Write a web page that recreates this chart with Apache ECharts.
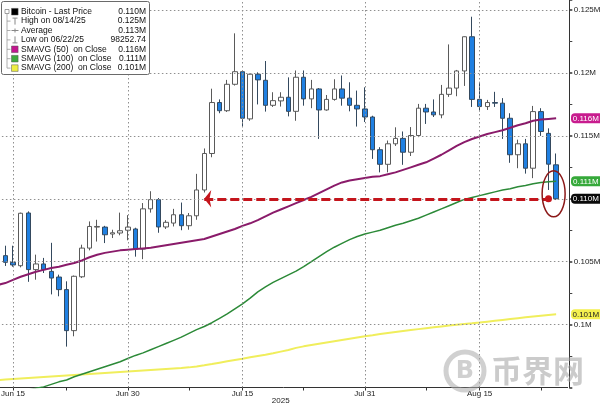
<!DOCTYPE html>
<html><head><meta charset="utf-8">
<script src="https://cdn.jsdelivr.net/npm/echarts@6/dist/echarts.min.js"></script>
<style>html,body{margin:0;padding:0;background:#fff}#c{width:600px;height:405px}</style>
</head><body><div id="c"></div>
<script>
const dates = ['Jun 13','Jun 14','Jun 15','Jun 16','Jun 17','Jun 18','Jun 19','Jun 20','Jun 21','Jun 22','Jun 23','Jun 24','Jun 25','Jun 26','Jun 27','Jun 28','Jun 29','Jun 30',
'Jul 1','Jul 2','Jul 3','Jul 4','Jul 5','Jul 6','Jul 7','Jul 8','Jul 9','Jul 10','Jul 11','Jul 12','Jul 13','Jul 14','Jul 15','Jul 16','Jul 17','Jul 18','Jul 19','Jul 20','Jul 21','Jul 22','Jul 23','Jul 24','Jul 25','Jul 26','Jul 27','Jul 28','Jul 29','Jul 30','Jul 31',
'Aug 1','Aug 2','Aug 3','Aug 4','Aug 5','Aug 6','Aug 7','Aug 8','Aug 9','Aug 10','Aug 11','Aug 12','Aug 13','Aug 14','Aug 15','Aug 16','Aug 17','Aug 18','Aug 19','Aug 20','Aug 21','Aug 22','Aug 23','Aug 24','Aug 25','Aug 26'];

const open  = [106000,105480,104950,104680,108870,104370,104820,104230,103780,102780,99520,103800,106080,107750,107750,107200,107280,107500,107600,106000,109200,109930,107760,108070,108730,107860,108650,110700,113600,117650,117000,119100,120100,116350,119900,119420,117430,117780,118070,116950,119660,117940,118730,117060,117900,118730,118000,117430,117140,116500,113900,112740,114370,114800,113700,115030,117200,116900,116670,118300,118800,120160,122880,117900,117330,117650,117600,116400,113500,114370,112430,116930,115200,112700];
const close = [105480,104950,104740,108850,104370,104820,104370,103700,102780,99520,103840,106080,107800,107800,107140,107300,107460,107750,106000,109200,109930,107760,108130,108730,107860,108650,110700,113600,117650,117000,119100,120100,116400,119900,119450,117430,117800,118070,116950,119660,117940,118730,117060,117900,118730,118000,117430,117140,116500,113900,112740,114370,114800,113700,115030,117200,116900,116670,118300,118800,120160,122880,117900,117330,117650,117600,116400,113500,114370,112430,116930,115350,112750,110000];
const low   = [104800,104660,104600,104550,103400,103570,104100,102400,102250,98250,99070,103700,105900,106600,106480,106880,107100,106700,105400,105200,108900,107300,107600,107800,107500,107540,108330,110500,113300,116800,116900,119000,115750,116200,117500,116930,117300,117330,116550,116200,117400,117200,114760,117000,117800,117400,116950,115740,116100,113170,112100,112100,114200,112700,113400,114900,115950,116500,116400,118100,118150,118970,117300,116950,117060,117300,114760,112860,112430,112000,111640,115000,110700,109900];
const high  = [106300,106270,106270,108900,109000,105560,105300,106500,103970,103440,103900,106350,108200,108330,107850,107540,108900,108700,107700,109660,110600,110060,108300,109200,109700,108870,111980,114000,118750,117900,119450,123150,120150,119950,120050,120950,118470,118470,119650,120200,120200,119450,118800,118250,119500,119800,119260,118600,118860,116600,114100,114630,115680,115350,115700,117540,117540,117900,119050,122270,120240,122900,124470,119300,117860,118500,118000,116800,114700,114760,117380,117200,115600,113600];

const sma50  = [103150,103300,103550,103800,104000,104200,104350,104500,104600,104750,104900,105100,105350,105550,105700,105800,105900,105950,106000,106050,106100,106200,106300,106400,106500,106600,106700,106800,107000,107200,107400,107600,107850,108050,108300,108600,108900,109150,109400,109650,109900,110150,110450,110750,111050,111300,111450,111550,111650,111750,111800,111950,112100,112300,112500,112700,112900,113200,113500,113850,114200,114500,114750,114950,115150,115300,115450,115650,115850,116000,116200,116300,116350,116400];
const sma100 = [94200,94350,94500,94650,94800,94950,95050,95250,95450,95600,95850,96050,96250,96450,96650,96850,97050,97300,97550,97750,98000,98250,98500,98750,99000,99300,99600,99850,100150,100500,100850,101250,101650,102100,102600,103000,103350,103650,103950,104250,104600,105000,105400,105800,106150,106450,106750,107000,107200,107350,107500,107700,107900,108050,108250,108450,108700,108950,109200,109450,109700,109950,110100,110250,110400,110550,110700,110800,110950,111050,111200,111300,111350,111400];
const sma200 = [95570,95630,95670,95710,95750,95790,95830,95870,95910,95950,95990,96030,96070,96110,96150,96190,96230,96270,96310,96350,96390,96430,96470,96510,96550,96600,96670,96760,96860,96970,97080,97190,97290,97400,97500,97600,97720,97850,97980,98150,98270,98370,98470,98570,98670,98770,98870,98970,99070,99150,99250,99340,99420,99500,99570,99640,99710,99780,99850,99920,99990,100050,100100,100160,100230,100300,100370,100440,100510,100580,100650,100710,100770,100820];

const majorDates = ['Jun 15','Jun 30','Jul 15','Jul 31','Aug 15'];
const minorDates = ['Jun 22','Jul 8','Jul 23','Aug 8','Aug 23'];
const yearLabel = '2025';
const yGridValues = [100000,105000,110000,115000,120000,125000];
const yLabelValues = [100000,105000,115000,120000,125000];
const arrowFrom = 'Jul 10', arrowTo = 'Aug 24';
const legendRows = [
  {label:'Bitcoin - Last Price', value:'0.110M', icon:'square', color:'#000000'},
  {label:'High on 08/14/25', value:'0.125M', icon:'high'},
  {label:'Average', value:'0.113M', icon:'avg'},
  {label:'Low on 06/22/25', value:'98252.74', icon:'low'},
  {label:'SMAVG (50)  on Close', value:'0.116M', icon:'square', color:'#c2178f'},
  {label:'SMAVG (100)  on Close', value:'0.111M', icon:'square', color:'#3daa3d'},
  {label:'SMAVG (200)  on Close', value:'0.101M', icon:'square', color:'#eeee44'}
];
const tagTexts = {last:'0.110M', s50:'0.116M', s100:'0.111M', s200:'0.101M'};

const FONT = "'Liberation Sans',Arial,sans-serif";
const chart = echarts.init(document.getElementById('c'), null, {renderer:'canvas'});

const candleData = open.map((o,i)=>[o, close[i], low[i], high[i]]);

chart.setOption({
  animation:false,
  backgroundColor:'#ffffff',
  grid:{left:-6.1, right:32.4, top:0, bottom:17.5, containLabel:false, outerBoundsMode:'none'},
  xAxis:{type:'category', data:dates, boundaryGap:true,
    axisLine:{show:true, lineStyle:{color:'#333', width:1}},
    axisTick:{show:true, alignWithLabel:true, length:3, interval:(i,v)=>majorDates.includes(v)||minorDates.includes(v), lineStyle:{color:'#333'}},
    axisLabel:{show:true, interval:(i,v)=>majorDates.includes(v), fontSize:8, color:'#222', margin:2.5, fontFamily:FONT},
    splitLine:{show:false}
  },
  yAxis:{type:'value', position:'right', min:95000, max:125800, interval:5000, offset:1.7,
    axisLine:{show:true, lineStyle:{color:'#333', width:1}},
    axisTick:{show:true, length:3, lineStyle:{color:'#333', width:1.5}},
    minorTick:{show:true, splitNumber:2, length:3, lineStyle:{color:'#444'}},
    splitLine:{show:false},
    axisLabel:{margin:4.5, fontSize:8, color:'#222', fontFamily:FONT,
      formatter:v=> yLabelValues.includes(v) ? (+(v/1e6).toFixed(3))+'M' : ''}
  },
  series:[
    {type:'line', data:[], z:1, silent:true,
      markLine:{silent:true, symbol:'none', label:{show:false}, animation:false,
        lineStyle:{type:[1.5,2.5], color:'#8f8f8f', width:1},
        data: majorDates.map(d=>({xAxis:d})).concat(yGridValues.map(v=>({yAxis:v})))}
    },
    {type:'candlestick', name:'Bitcoin', data:candleData, barWidth:5, z:3,
      itemStyle:{color:'#ffffff', color0:'#1f80e2', borderColor:'#5a5a5a', borderColor0:'#34495e', borderWidth:1}
    },
    {type:'line', name:'SMAVG (200)', data:sma200, symbol:'none', z:4, lineStyle:{color:'#f0ee5c', width:2}},
    {type:'line', name:'SMAVG (100)', data:sma100, symbol:'none', z:4, lineStyle:{color:'#2c8a38', width:1.5}},
    {type:'line', name:'SMAVG (50)', data:sma50, symbol:'none', z:4, lineStyle:{color:'#8a1b6a', width:2}},
    {type:'line', data:[], z:6, silent:true,
      markLine:{silent:true, symbol:['arrow','circle'], symbolSize:[13,7], label:{show:false}, animation:false,
        lineStyle:{type:[9,4], color:'#c4151c', width:3},
        data:[[{coord:[arrowFrom, close[close.length-1]]},{coord:[arrowTo, close[close.length-1]]}]]}
    }
  ]
});

function yPx(v){ return chart.convertToPixel({yAxisIndex:0}, v); }
const lastIdx = close.length-1;
const lastPt = chart.convertToPixel({seriesIndex:1}, [lastIdx, close[lastIdx]]);
const gridRect = chart.getModel().getComponent('grid').coordinateSystem.getRect();

const g = [];
// year label under the x axis, centred on the plot
g.push({type:'text', style:{text:yearLabel, x:gridRect.x + gridRect.width/2, y:gridRect.y + gridRect.height + 13.5, fill:'#222', font:'8px '+FONT, align:'center', verticalAlign:'middle'}, z:50});
// legend box
g.push({type:'rect', shape:{x:1.5, y:1.5, width:148, height:73, r:2}, style:{fill:'#ffffff', stroke:'#6a6a6a', lineWidth:1}, z:100});
const rowY = i => 11.7 + i*9.4;
g.push({type:'rect', shape:{x:5, y:9.5, width:4, height:4}, style:{fill:'#fff', stroke:'#888', lineWidth:0.8}, z:101});
g.push({type:'line', shape:{x1:7, y1:13.5, x2:7, y2:rowY(6)}, style:{stroke:'#999', lineWidth:0.8}, z:101});
legendRows.forEach((r,i)=>{
  const y = rowY(i);
  if(i>0) g.push({type:'line', shape:{x1:7, y1:y, x2:10.5, y2:y}, style:{stroke:'#999', lineWidth:0.8}, z:101});
  if(r.icon==='square'){
    g.push({type:'rect', shape:{x:11.5, y:y-3.3, width:6.6, height:6.6}, style:{fill:r.color, stroke:'#555', lineWidth:0.5}, z:101});
  } else if(r.icon==='high'){
    g.push({type:'line', shape:{x1:12.5, y1:y-3, x2:17.5, y2:y-3}, style:{stroke:'#888', lineWidth:1}, z:101});
    g.push({type:'line', shape:{x1:15, y1:y-3, x2:15, y2:y+3.5}, style:{stroke:'#888', lineWidth:1}, z:101});
  } else if(r.icon==='avg'){
    g.push({type:'line', shape:{x1:11.5, y1:y, x2:18.5, y2:y}, style:{stroke:'#888', lineWidth:1}, z:101});
    g.push({type:'line', shape:{x1:15, y1:y-2, x2:15, y2:y+2}, style:{stroke:'#888', lineWidth:1}, z:101});
  } else if(r.icon==='low'){
    g.push({type:'line', shape:{x1:15, y1:y-3.5, x2:15, y2:y+3}, style:{stroke:'#888', lineWidth:1}, z:101});
    g.push({type:'line', shape:{x1:12.5, y1:y+3, x2:17.5, y2:y+3}, style:{stroke:'#888', lineWidth:1}, z:101});
  }
  g.push({type:'text', style:{text:r.label, x:21, y:y, fill:'#111', font:'8.5px '+FONT, verticalAlign:'middle', align:'left'}, z:101});
  g.push({type:'text', style:{text:r.value, x:146, y:y, fill:'#111', font:'8.5px '+FONT, verticalAlign:'middle', align:'right'}, z:101});
});

// right price tags
const tags = [
  {v:sma50[lastIdx], t:tagTexts.s50, bg:'#c81c8e', fg:'#ffffff'},
  {v:sma100[lastIdx], t:tagTexts.s100, bg:'#36a93a', fg:'#ffffff'},
  {v:close[lastIdx], t:tagTexts.last, bg:'#0a0a0a', fg:'#ffffff'},
  {v:sma200[lastIdx], t:tagTexts.s200, bg:'#f4f04e', fg:'#222222'}
];
tags.forEach(tg=>{
  const y = yPx(tg.v);
  g.push({type:'rect', shape:{x:571, y:y-5, width:30, height:10, r:[4,0,0,4]}, style:{fill:tg.bg}, z:110});
  g.push({type:'text', style:{text:tg.t, x:585.8, y:y+0.5, fill:tg.fg, font:'8px '+FONT, align:'center', verticalAlign:'middle'}, z:111});
});

// red ellipse around last candle
g.push({type:'ellipse', shape:{cx:lastPt[0]-2.5, cy:lastPt[1]-5, rx:11.5, ry:23}, style:{fill:'none', stroke:'#8b1818', lineWidth:1.5}, z:90});

// watermark
g.push({type:'circle', shape:{cx:465, cy:371, r:19}, style:{fill:'none', stroke:'rgba(170,170,170,0.55)', lineWidth:5}, z:80});
g.push({type:'text', style:{text:'B', x:465, y:372, fill:'rgba(170,170,170,0.55)', font:'bold 24px "DejaVu Sans"', align:'center', verticalAlign:'middle'}, z:80});
g.push({type:'text', style:{text:'币界网', x:491, y:370, fill:'rgba(160,160,160,0.55)', font:'bold 31px "Noto Sans CJK SC"', align:'left', verticalAlign:'middle'}, z:80});

chart.setOption({graphic:g});
</script></body></html>
